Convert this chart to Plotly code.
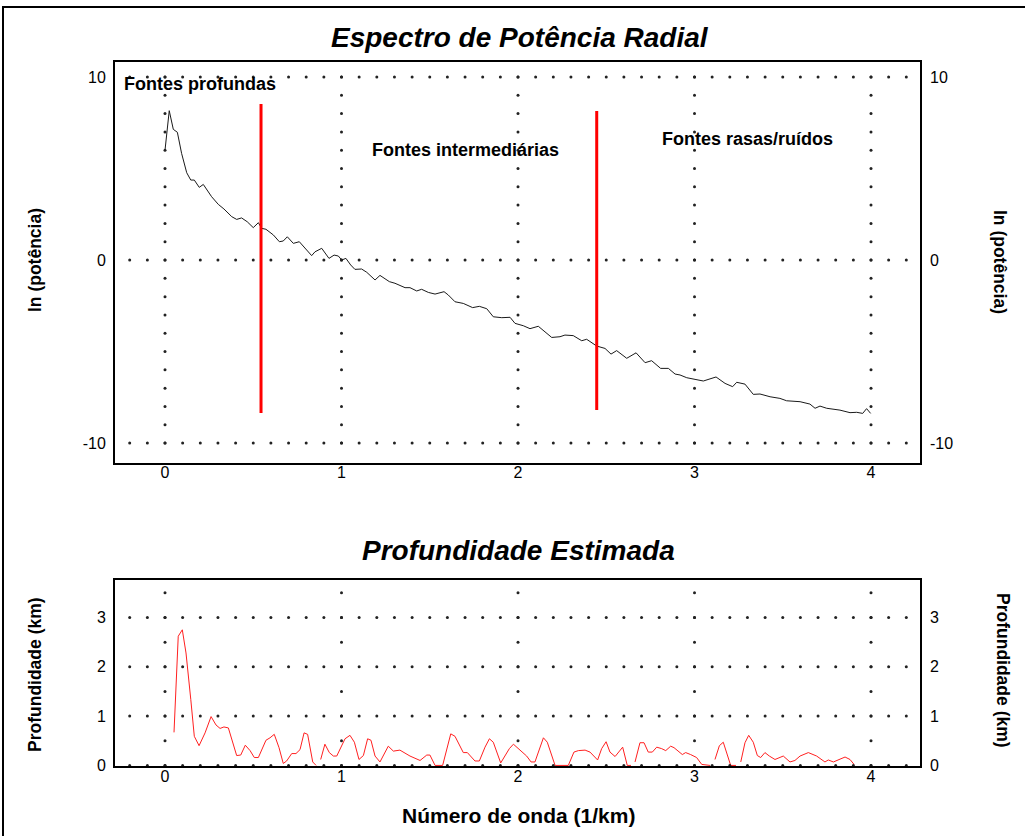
import numpy as np
import plotly.graph_objects as go

# ---------------- data ----------------
# Radial power spectrum: wavenumber (1/km) vs ln(power)
spec_k = [0.0, 0.024, 0.047, 0.07, 0.094, 0.123, 0.146, 0.166, 0.194, 0.217,
          0.264, 0.302, 0.334, 0.378, 0.406, 0.434, 0.466, 0.500, 0.529, 0.548,
          0.572, 0.614, 0.648, 0.670, 0.693, 0.727, 0.761, 0.793, 0.831, 0.850,
          0.888, 0.929, 0.958, 0.982, 1.001, 1.025, 1.052, 1.076, 1.114, 1.143,
          1.19, 1.218, 1.271, 1.303, 1.36, 1.388, 1.426, 1.454, 1.492, 1.530,
          1.581, 1.605, 1.643, 1.69, 1.743, 1.781, 1.823, 1.86, 1.908, 1.955,
          1.983, 2.03, 2.068, 2.115, 2.191, 2.238, 2.266, 2.313, 2.361, 2.389,
          2.446, 2.493, 2.527, 2.559, 2.616, 2.669, 2.720, 2.757, 2.808, 2.852,
          2.890, 2.918, 2.956, 3.003, 3.05, 3.122, 3.173, 3.216, 3.239, 3.286,
          3.333, 3.371, 3.428, 3.484, 3.522, 3.598, 3.654, 3.683, 3.711, 3.749,
          3.824, 3.881, 3.919, 3.953, 3.975, 3.998]
spec_lnp = [6.0, 8.16, 7.14, 6.98, 5.83, 4.77, 4.37, 4.37, 3.97, 4.13,
            3.46, 3.04, 2.79, 2.37, 2.22, 2.30, 2.09, 1.77, 2.04, 1.73,
            1.68, 1.37, 1.0, 1.04, 1.27, 0.91, 1.0, 0.64, 0.24, 0.45,
            0.64, 0.09, 0.27, 0.22, 0.0, 0.09, -0.27, -0.51, -0.49, -0.67,
            -1.09, -0.84, -1.18, -1.27, -1.51, -1.51, -1.69, -1.60, -1.77, -1.86,
            -1.73, -1.91, -2.28, -2.37, -2.6, -2.53, -2.66, -3.1, -3.15, -3.13,
            -3.46, -3.59, -3.75, -3.62, -4.23, -4.19, -4.1, -4.13, -4.41, -4.33,
            -4.7, -4.83, -5.14, -4.95, -5.37, -5.07, -5.61, -5.5, -5.92, -5.92,
            -6.23, -6.28, -6.43, -6.52, -6.61, -6.39, -6.74, -6.92, -6.68, -6.78,
            -7.34, -7.32, -7.47, -7.56, -7.69, -7.74, -7.87, -8.1, -7.98, -8.1,
            -8.2, -8.34, -8.32, -8.38, -8.12, -8.38]

# Estimated depth (km) vs wavenumber (None = gap)
depth_k = [0.051, 0.075, 0.098, 0.119, 0.146, 0.166, 0.193, 0.227, 0.261, 0.289,
           0.312, 0.334, 0.359, 0.406, 0.429, 0.455, 0.482, 0.506, 0.529, 0.572,
           0.595, 0.619, 0.646, 0.670, 0.689, 0.718, 0.742, 0.765, 0.788, 0.808,
           0.837, 0.856, 0.869, 0.882, 0.906, 0.931, 0.954, 0.973, 1.02, 1.048,
           1.073, 1.099, 1.124, 1.148, 1.167, 1.190, 1.218, 1.265, 1.294, 1.331,
           1.388, 1.445, 1.483, 1.501, 1.530, 1.573, 1.619, 1.643, 1.690, 1.713,
           1.756, 1.781, 1.813, 1.838, 1.86, 1.902, 1.951, 1.974, 2.011, 2.049,
           2.074, 2.096, 2.144, 2.166, 2.21, 2.285, 2.317, 2.342, 2.38, 2.408,
           2.451, 2.474, 2.499, 2.521, 2.55, 2.593, 2.619, 2.64, 2.65, 2.663,
           2.691, 2.714, 2.738, 2.761, 2.786, 2.814, 2.837, 2.865, 2.884, 2.931,
           2.95, 2.978, 3.012, 3.041, 3.088, 3.10, 3.116, 3.141, 3.163, 3.205,
           3.235, 3.25, 3.262, 3.286, 3.307, 3.333, 3.356, 3.375, 3.399, 3.424,
           3.456, 3.503, 3.541, 3.569, 3.598, 3.645, 3.692, 3.739, 3.758, 3.787,
           3.853, 3.881, 3.904]
depth_km = [0.67, 2.62, 2.75, 2.28, 1.34, 0.59, 0.40, 0.66, 0.99, 0.82,
            0.75, 0.78, 0.76, 0.20, 0.21, 0.41, 0.30, 0.16, 0.16, 0.51,
            0.56, 0.63, 0.36, 0.04, 0.09, 0.24, 0.24, 0.32, 0.66, 0.63,
            0.07, 0.0, None, 0.12, 0.43, 0.26, 0.19, 0.19, 0.54, 0.61,
            0.47, 0.12, 0.20, 0.54, 0.51, 0.19, 0.07, 0.39, 0.29, 0.31,
            0.19, 0.10, 0.21, 0.21, 0.0, 0.0, 0.64, 0.59, 0.26, 0.26,
            0.09, 0.09, 0.37, 0.54, 0.47, 0.05, 0.34, 0.43, 0.32, 0.19,
            0.07, 0.07, 0.56, 0.47, 0.0, 0.0, 0.27, 0.30, 0.31, 0.27,
            0.11, 0.34, 0.48, 0.27, 0.18, 0.37, 0.0, 0.0, None, 0.07,
            0.46, 0.46, 0.27, 0.27, 0.37, 0.34, 0.30, 0.39, 0.36, 0.22,
            0.26, 0.22, 0.16, 0.02, 0.0, None, 0.12, 0.40, 0.47, 0.0,
            0.0, None, 0.07, 0.46, 0.61, 0.47, 0.20, 0.16, 0.26, 0.19,
            0.12, 0.19, 0.07, 0.10, 0.19, 0.26, 0.19, 0.07, 0.11, 0.07,
            0.17, 0.12, 0.02]

# Boundaries between source domains (red vertical lines)
boundary_k = [0.544, 2.446]
boundary_top = [8.52, 8.14]
boundary_bottom = [-8.36, -8.2]

# Region labels
region_labels = ["Fontes profundas", "Fontes intermediárias", "Fontes rasas/ruídos"]
region_label_k = [-0.244, 1.161, 2.805]
region_label_lnp = [9.62, 6.01, 6.61]

x_ticks = [0, 1, 2, 3, 4]
spec_ticks = [-10, 0, 10]
spec_ticktext = ["-10", "0", "10"]
depth_ticks = [0, 1, 2, 3]

# ---------------- layout helpers ----------------
W, H = 1025, 836
ML, MR, MT, MB = 115, 105, 62, 70
PW = W - ML - MR
PH = H - MT - MB


def px_x(p):
    return (p - ML) / PW


def px_y(p):
    return (H - MB - p) / PH


XR = [-0.2833, 4.2776]
Y1R = [-11.09, 10.82]
Y2R = [-0.012, 3.76]
FONT = "Liberation Sans, Arial, sans-serif"
TICKFONT = dict(family=FONT, size=16, color="black")

fig = go.Figure()

# dotted grids (decorative), built from grid spacing
gx_row = np.round(np.arange(-0.2, 4.2001, 0.1), 3)


def grid_points(rows, col_y):
    xs, ys = [], []
    for r in rows:
        xs += list(gx_row)
        ys += [r] * len(gx_row)
    for c in x_ticks:
        for yv in col_y:
            xs.append(c)
            ys.append(yv)
    return xs, ys


gx1, gy1 = grid_points(spec_ticks, np.arange(-10, 10.01, 1))
gx2, gy2 = grid_points(depth_ticks, np.arange(0, 3.51, 0.5))

fig.add_trace(go.Scatter(x=spec_k, y=spec_lnp, mode="lines",
                         line=dict(color="#1a1a1a", width=1),
                         xaxis="x", yaxis="y", hoverinfo="skip", showlegend=False))

bx, by = [], []
for k, t, b in zip(boundary_k, boundary_top, boundary_bottom):
    bx += [k, k, None]
    by += [b, t, None]
fig.add_trace(go.Scatter(x=bx, y=by, mode="lines", line=dict(color="#ff0000", width=3),
                         xaxis="x", yaxis="y", hoverinfo="skip", showlegend=False))

fig.add_trace(go.Scatter(x=gx1, y=gy1, mode="markers",
                         marker=dict(color="#222222", size=3),
                         xaxis="x", yaxis="y3", hoverinfo="skip", showlegend=False))

fig.add_trace(go.Scatter(x=depth_k, y=depth_km, mode="lines", connectgaps=False,
                         line=dict(color="#ff2020", width=1),
                         xaxis="x2", yaxis="y2", hoverinfo="skip", showlegend=False))
fig.add_trace(go.Scatter(x=gx2, y=gy2, mode="markers",
                         marker=dict(color="#222222", size=3),
                         xaxis="x2", yaxis="y4", hoverinfo="skip", showlegend=False))

axis_common = dict(showgrid=False, zeroline=False, showline=True, mirror=True,
                   linecolor="black", linewidth=2, ticks="", tickfont=TICKFONT)

y1_dom = [px_y(463), 1.0]
y2_dom = [0.0, px_y(580)]

fig.update_layout(
    width=W, height=H,
    margin=dict(l=ML, r=MR, t=MT, b=MB),
    paper_bgcolor="white", plot_bgcolor="white",
    showlegend=False,
    xaxis=dict(axis_common, domain=[0, 1], anchor="y", range=XR, tickvals=x_ticks,
               ticklabelstandoff=-6, layer="below traces"),
    yaxis=dict(axis_common, domain=y1_dom, anchor="x", range=Y1R, tickvals=spec_ticks,
               ticktext=spec_ticktext, ticklabelstandoff=4, layer="below traces"),
    yaxis3=dict(showgrid=False, zeroline=False, showline=False, overlaying="y",
                side="right", anchor="x", range=Y1R, tickvals=spec_ticks,
                ticktext=spec_ticktext, ticks="", ticklabelstandoff=9, tickfont=TICKFONT),
    xaxis2=dict(axis_common, domain=[0, 1], anchor="y2", range=XR, tickvals=x_ticks,
                ticklabelstandoff=-5, layer="below traces"),
    yaxis2=dict(axis_common, domain=y2_dom, anchor="x2", range=Y2R, tickvals=depth_ticks,
                ticklabelstandoff=4, layer="below traces"),
    yaxis4=dict(showgrid=False, zeroline=False, showline=False, overlaying="y2",
                side="right", anchor="x2", range=Y2R, tickvals=depth_ticks, ticks="",
                ticklabelstandoff=9, tickfont=TICKFONT),
)

ann = []
# titles
ann.append(dict(text="<b><i>Espectro de Potência Radial</i></b>", xref="paper", yref="paper",
                x=px_x(520), y=px_y(37), showarrow=False, xanchor="center", yanchor="middle",
                font=dict(family=FONT, size=28, color="black")))
ann.append(dict(text="<b><i>Profundidade Estimada</i></b>", xref="paper", yref="paper",
                x=px_x(518), y=px_y(550), showarrow=False, xanchor="center", yanchor="middle",
                font=dict(family=FONT, size=28, color="black")))
# axis titles
ann.append(dict(text="<b>ln (potência)</b>", xref="paper", yref="paper", x=px_x(35), y=px_y(260),
                textangle=-90, showarrow=False, xanchor="center", yanchor="middle",
                font=dict(family=FONT, size=17.5, color="black")))
ann.append(dict(text="<b>ln (potência)</b>", xref="paper", yref="paper", x=px_x(1000), y=px_y(262),
                textangle=90, showarrow=False, xanchor="center", yanchor="middle",
                font=dict(family=FONT, size=17.5, color="black")))
ann.append(dict(text="<b>Profundidade (km)</b>", xref="paper", yref="paper", x=px_x(35), y=px_y(675),
                textangle=-90, showarrow=False, xanchor="center", yanchor="middle",
                font=dict(family=FONT, size=17.5, color="black")))
ann.append(dict(text="<b>Profundidade (km)</b>", xref="paper", yref="paper", x=px_x(1003), y=px_y(670),
                textangle=90, showarrow=False, xanchor="center", yanchor="middle",
                font=dict(family=FONT, size=17.5, color="black")))
ann.append(dict(text="<b>Número de onda (1/km)</b>", xref="paper", yref="paper", x=px_x(518), y=px_y(815),
                showarrow=False, xanchor="center", yanchor="middle",
                font=dict(family=FONT, size=21, color="black")))
# region labels
for t, kx, ly in zip(region_labels, region_label_k, region_label_lnp):
    ann.append(dict(text=f"<b>{t}</b>", xref="x", yref="y", x=kx, y=ly, showarrow=False,
                    xanchor="left", yanchor="middle",
                    font=dict(family=FONT, size=18, color="black")))
fig.update_layout(annotations=ann)

# outer border of the original figure
fig.add_shape(type="rect", xref="paper", yref="paper",
              x0=px_x(3), x1=px_x(1030), y0=px_y(842), y1=px_y(7),
              line=dict(color="black", width=2), fillcolor="rgba(0,0,0,0)", layer="above")

fig.write_html("out.html",
               config={"displayModeBar": False},
               post_script="document.body.style.margin='0';document.body.style.overflow='hidden';")
